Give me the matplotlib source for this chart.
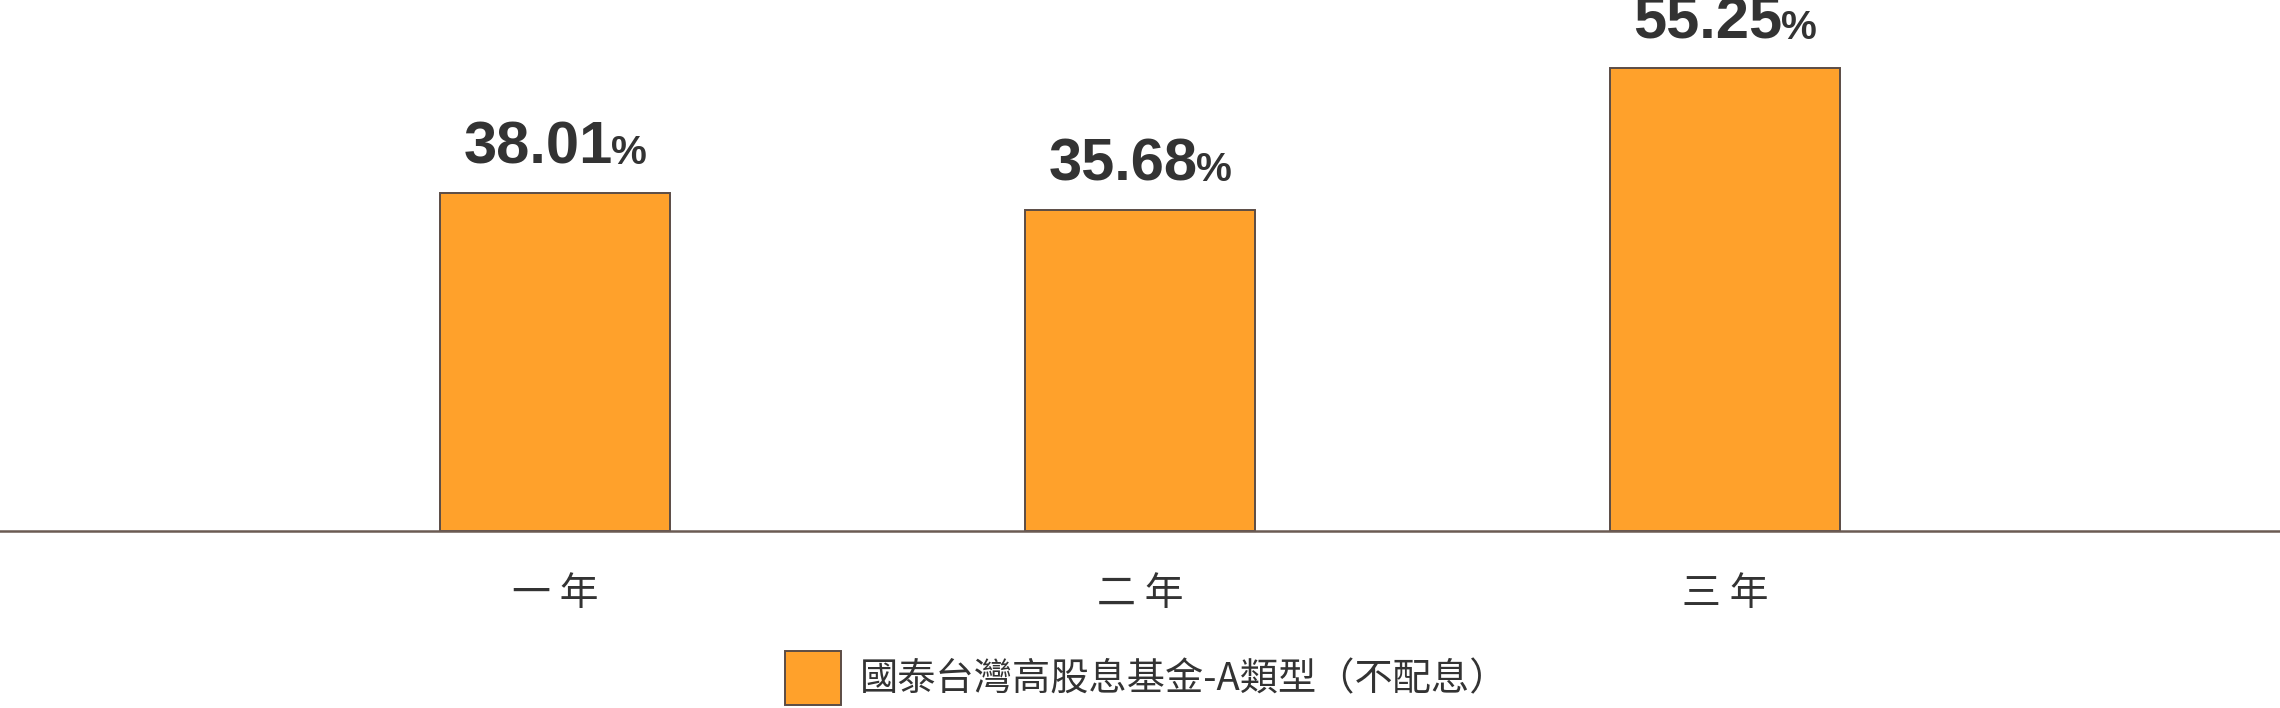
import matplotlib
matplotlib.use("Agg")
import matplotlib.pyplot as plt
from matplotlib.patches import Patch

categories = ["一 年", "二 年", "三 年"]
values = [38.01, 35.68, 55.25]
series_name = "國泰台灣高股息基金-A類型（不配息）"

axis_min = -8.6
axis_max = 64.6

fig = plt.figure(figsize=(22.8, 7.08), dpi=100)
ax = fig.add_axes([0, 0.25, 1, 0.75])

x = list(range(len(categories)))
bars = ax.bar(x, [v - axis_min for v in values], bottom=axis_min, width=0.393,
              color="#FFA12B", edgecolor="#5b4c45", linewidth=1.4, zorder=2)

ax.set_xlim(-0.949, 2.949)
ax.set_ylim(axis_min, axis_max)
ax.set_xticks(x)
ax.set_xticklabels(categories, fontsize=28, color="#333333",
                   family=["Noto Sans CJK TC", "DejaVu Sans"])
ax.tick_params(axis="x", length=0, pad=31)
ax.set_yticks([])
for s in ["top", "left", "right"]:
    ax.spines[s].set_visible(False)
ax.spines["bottom"].set_color("#6b5b53")
ax.spines["bottom"].set_linewidth(1.8)
ax.spines["bottom"].set_zorder(3)

# value labels: bold number + smaller percent sign
fig.canvas.draw()
renderer = fig.canvas.get_renderer()
gap = -2
for xi, v in zip(x, values):
    num = ax.annotate(f"{v:.2f}", xy=(xi, v), xytext=(0, 29), textcoords="offset pixels",
                      ha="left", va="baseline", fontsize=43, fontweight="bold",
                      color="#333333", family="Liberation Sans")
    pct = ax.annotate("%", xy=(xi, v), xytext=(0, 29), textcoords="offset pixels",
                      ha="left", va="baseline", fontsize=29, fontweight="bold",
                      color="#333333", family="Liberation Sans")
    w1 = num.get_window_extent(renderer).width
    w2 = pct.get_window_extent(renderer).width
    total = w1 + gap + w2
    num.set_position((-total / 2, 29))
    pct.set_position((-total / 2 + w1 + gap, 29))

handle = Patch(facecolor="#FFA12B", edgecolor="#5b4c45", linewidth=1.4)
fig.legend([handle], [series_name], loc="center", bbox_to_anchor=(0.503, 0.042),
           frameon=False, handlelength=1.47, handleheight=1.8, handletextpad=0.5,
           prop={"family": ["Noto Sans CJK TC", "DejaVu Sans"], "size": 27.5,
                 "weight": "medium"},
           labelcolor="#333333")

fig.savefig("out.png", dpi=100)
